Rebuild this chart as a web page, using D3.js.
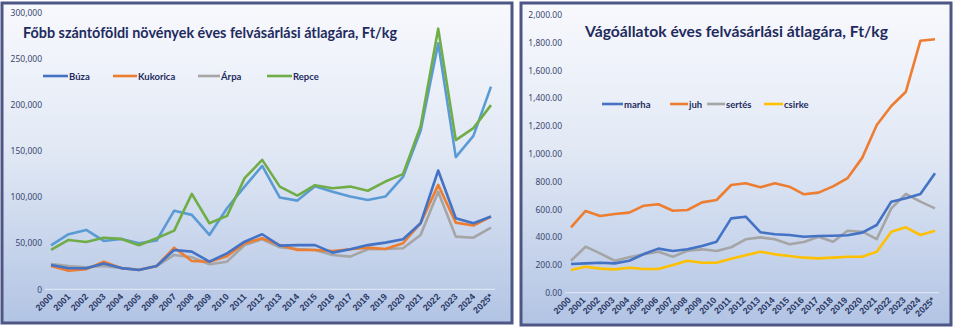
<!DOCTYPE html>
<html>
<head>
<meta charset="utf-8">
<script src="https://cdn.jsdelivr.net/npm/d3@7"></script>
<style>
  body { margin: 0; background: #fff; }
  svg { display: block; font-family: Lato, "Open Sans", sans-serif; }
</style>
</head>
<body>
<svg id="chart" width="954" height="327"></svg>
<script>
let years = ["2000", "2001", "2002", "2003", "2004", "2005", "2006", "2007", "2008", "2009",
  "2010", "2011", "2012", "2013", "2014", "2015", "2016", "2017", "2018", "2019",
  "2020", "2021", "2022", "2023", "2024", "2025*"];

// crops, Ft/kg
let buza = [26400, 22800, 22800, 28000, 23000, 21000, 25300, 42700, 40900, 30000, 39000, 51700, 59800,
  47400, 48000, 48000, 39800, 43500, 48000, 50700, 54300, 71700, 129000, 77200, 71700, 79000];
let kukorica = [25300, 20200, 21700, 30000, 23000, 21000, 25300, 45200, 30800, 30000, 36000, 50000, 55400,
  48000, 42700, 42700, 41600, 43500, 45200, 43800, 50000, 71700, 113400, 72400, 69200, 79000];
let arpa = [27500, 25300, 24000, 25300, 23000, 21500, 25000, 37300, 34800, 27200, 30000, 48000, 54300,
  45600, 43800, 42700, 37300, 35500, 43500, 43800, 44600, 59000, 106000, 57200, 56000, 67000];
let repce = [42700, 53600, 51400, 56000, 54700, 47800, 55400, 63700, 103600, 71700, 79700, 120700, 140500,
  111500, 101800, 113000, 109800, 111500, 107000, 117000, 125000, 177000, 283000, 162000, 175000, 200000];
// fifth series, has no legend entry
let unlisted = [47800, 59800, 64500, 52500, 54700, 50000, 52900, 85400, 80800, 59000, 88000, 111500, 134000,
  99600, 96300, 112000, 106000, 100700, 97000, 100700, 122000, 172000, 267000, 143500, 166600, 220000];

// livestock, Ft/kg
let marha = [206, 211, 216, 211, 230, 278, 317, 300, 312, 336, 367, 535, 547,
  435, 420, 415, 403, 408, 410, 413, 432, 487, 655, 679, 710, 859];
let juh = [470, 588, 552, 566, 576, 626, 636, 590, 595, 650, 667, 775, 787,
  758, 787, 763, 708, 720, 765, 825, 970, 1206, 1343, 1446, 1813, 1823];
let sertes = [230, 331, 283, 230, 255, 276, 295, 259, 302, 312, 300, 327, 384,
  398, 384, 348, 365, 403, 367, 446, 439, 386, 607, 710, 655, 607];
let csirke = [163, 187, 173, 168, 180, 170, 170, 199, 230, 216, 216, 245, 269,
  295, 276, 264, 252, 247, 252, 259, 259, 295, 439, 470, 415, 446];

let navy = "#1f2b5e";
let tickColor = "#3a4670";

let svg = d3.select("#chart");

let defs = svg.append("defs");
let grad = defs.append("linearGradient")
  .attr("id", "bg")
  .attr("x1", 0).attr("y1", 0).attr("x2", 0).attr("y2", 1);
grad.append("stop").attr("offset", "0%").attr("stop-color", "#f8f9fd");
grad.append("stop").attr("offset", "45%").attr("stop-color", "#e2e9f5");
grad.append("stop").attr("offset", "100%").attr("stop-color", "#b2c4e4");

function drawPanel(p) {
  let g = svg.append("g");

  g.append("rect")
    .attr("x", p.box[0]).attr("y", p.box[1])
    .attr("width", p.box[2]).attr("height", p.box[3])
    .attr("fill", "url(#bg)")
    .attr("stroke", "#4d5684")
    .attr("stroke-width", 3);

  let x = d3.scalePoint().domain(years).range(p.xRange);
  let y = d3.scaleLinear().domain([0, p.yMax]).range(p.yRange);

  // faint zero line
  g.append("line")
    .attr("x1", p.xRange[0] - 6).attr("x2", p.xRange[1] + 4)
    .attr("y1", y(0)).attr("y2", y(0))
    .attr("stroke", "#ffffff").attr("stroke-opacity", 0.6);

  let yAxis = g.append("g")
    .attr("transform", `translate(${p.yAxisX},0)`)
    .call(d3.axisLeft(y).tickValues(d3.range(0, p.yMax + 1, p.yStep))
      .tickSize(0).tickPadding(3).tickFormat(d3.format(p.fmt)));
  yAxis.select(".domain").remove();
  yAxis.selectAll("text")
    .attr("fill", tickColor)
    .style("font-size", "8.5px")
    .style("font-family", "'Noto Sans', sans-serif");

  let xAxis = g.append("g")
    .attr("transform", `translate(0,${y(0)})`)
    .call(d3.axisBottom(x).tickSize(0).tickPadding(0));
  xAxis.select(".domain").remove();
  xAxis.selectAll("text")
    .attr("y", 0).attr("dy", 0)
    .attr("transform", `translate(${p.lblShift[0]},${p.lblShift[1]}) rotate(-45)`)
    .attr("text-anchor", "end")
    .attr("fill", "#2c3a66")
    .style("font-size", "9px")
    .style("font-weight", "bold");

  let line = d3.line()
    .x((d, i) => x(years[i]))
    .y(d => y(d));

  p.series.forEach(s => {
    g.append("path")
      .datum(s.values)
      .attr("d", line)
      .attr("fill", "none")
      .attr("stroke", s.color)
      .attr("stroke-width", 2.6)
      .attr("stroke-linejoin", "round");
  });

  g.append("text")
    .attr("x", p.title.x).attr("y", p.title.y)
    .attr("textLength", p.title.w)
    .attr("lengthAdjust", "spacingAndGlyphs")
    .attr("fill", navy)
    .style("font-size", "16px")
    .style("font-weight", "bold")
    .text(p.title.text);

  p.series.filter(s => s.legend).forEach(s => {
    let [lx, lw] = s.legend;
    g.append("line")
      .attr("x1", lx).attr("x2", lx + lw)
      .attr("y1", p.legendY).attr("y2", p.legendY)
      .attr("stroke", s.color).attr("stroke-width", 2.6);
    g.append("text")
      .attr("x", lx + lw + 1).attr("y", p.legendY + 3.5)
      .attr("fill", navy)
      .style("font-size", "9.5px")
      .style("font-weight", "bold")
      .text(s.name);
  });
}

drawPanel({
  box: [2, 3, 510, 320],
  xRange: [51, 491],
  yRange: [289.3, 13],
  yMax: 300000,
  yStep: 50000,
  yAxisX: 45,
  fmt: ",",
  lblShift: [2, 8],
  legendY: 76,
  title: { text: "Főbb szántóföldi növények éves felvásárlási átlagára, Ft/kg", x: 23, y: 38, w: 374 },
  series: [
    { name: "unlisted", values: unlisted, color: "#5b9bd5" },
    { name: "Repce", values: repce, color: "#70ad47", legend: [267, 25] },
    { name: "Árpa", values: arpa, color: "#a5a5a5", legend: [198, 22] },
    { name: "Kukorica", values: kukorica, color: "#ed7d31", legend: [113, 24] },
    { name: "Búza", values: buza, color: "#4472c4", legend: [43, 25] }
  ]
});

drawPanel({
  box: [521, 3, 430, 322],
  xRange: [571, 935],
  yRange: [292.7, 14.7],
  yMax: 2000,
  yStep: 200,
  yAxisX: 565,
  fmt: ",.2f",
  lblShift: [0, 8],
  legendY: 104,
  title: { text: "Vágóállatok éves felvásárlási átlagára, Ft/kg", x: 585, y: 37, w: 303 },
  series: [
    { name: "csirke", values: csirke, color: "#ffc000", legend: [764, 19] },
    { name: "sertés", values: sertes, color: "#a5a5a5", legend: [707, 18] },
    { name: "marha", values: marha, color: "#4472c4", legend: [602, 21] },
    { name: "juh", values: juh, color: "#ed7d31", legend: [670, 18] }
  ]
});
</script>
</body>
</html>
